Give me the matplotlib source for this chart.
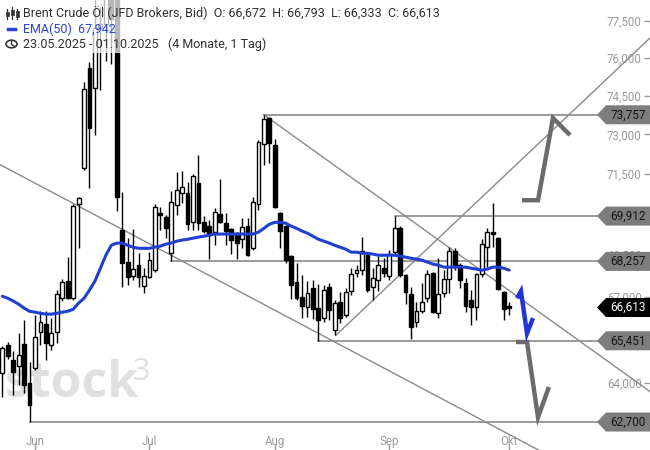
import numpy as np
import pandas as pd
import matplotlib
matplotlib.use('Agg')
import matplotlib.pyplot as plt
from matplotlib.patches import Polygon, Rectangle, Circle
from matplotlib.lines import Line2D
from matplotlib.transforms import blended_transform_factory
from matplotlib.ticker import NullLocator, NullFormatter

plt.rcParams['font.family'] = ['Roboto', 'DejaVu Sans']

# ---------------- data ----------------
dates = pd.bdate_range('2025-05-23', '2025-10-01')

opens = [64.34, 65.30, 64.78, 64.58, 65.33, 64.00, 64.51, 65.75, 66.03, 65.30,
         65.75, 66.94, 67.55, 66.94, 70.35, 71.71, 75.60, 74.80, 77.21, 77.40,
         79.30, 79.00, 69.39, 68.23, 67.72, 68.12, 67.37, 67.69, 67.94, 70.02,
         69.87, 68.55, 70.32, 70.77, 70.77, 69.68, 71.14, 69.68, 69.54, 69.32,
         69.98, 69.65, 69.43, 69.28, 69.06, 69.54, 68.73, 70.35, 72.62, 73.63,
         72.58, 70.02, 69.54, 68.45, 67.51, 66.98, 66.62, 67.30, 66.59, 66.24,
         67.34, 65.82, 66.80, 66.34, 67.19, 67.83, 67.94, 68.48, 67.34, 67.58,
         68.01, 67.72, 68.59, 69.46, 67.76, 67.09, 66.10, 66.48, 66.94, 67.83,
         66.41, 67.12, 67.62, 68.63, 68.12, 67.48, 66.87, 66.62, 67.80, 68.77,
         69.32, 69.10, 67.16, 66.672]
highs = [65.27, 65.40, 65.09, 65.71, 66.17, 64.71, 66.34, 66.48, 66.48, 66.24,
         67.23, 67.62, 68.41, 70.35, 70.61, 75.04, 75.84, 78.98, 78.10, 79.90,
         79.60, 80.80, 70.80, 69.10, 69.43, 68.55, 68.01, 68.59, 70.35, 70.24,
         69.94, 70.84, 71.55, 71.59, 71.18, 71.48, 72.20, 69.91, 69.76, 70.20,
         71.29, 70.02, 69.46, 69.32, 69.83, 69.83, 70.61, 72.77, 73.757, 73.67,
         72.81, 70.06, 69.57, 68.48, 68.19, 67.76, 67.55, 67.58, 67.44, 67.41,
         67.48, 66.87, 67.16, 67.30, 68.01, 68.12, 69.14, 68.52, 68.01, 68.45,
         68.37, 68.66, 69.912, 69.54, 67.80, 67.34, 66.80, 67.48, 67.94, 67.87,
         68.37, 67.94, 68.77, 68.73, 68.19, 67.65, 67.23, 67.83, 69.06, 69.46,
         70.39, 69.14, 67.20, 66.793]
lows = [63.53, 64.82, 63.60, 63.94, 63.67, 62.70, 64.44, 65.30, 64.78, 65.13,
        65.37, 66.84, 66.91, 66.87, 68.73, 71.63, 70.95, 72.97, 74.72, 75.88,
        75.76, 70.09, 67.34, 67.41, 67.58, 67.34, 67.12, 67.65, 67.87, 69.39,
        69.10, 68.257, 69.94, 70.39, 69.39, 69.39, 69.39, 69.28, 68.34, 68.84,
        69.65, 68.84, 68.52, 68.34, 68.73, 68.45, 68.66, 70.13, 71.82, 71.90,
        70.20, 68.73, 68.19, 66.91, 66.87, 66.24, 66.27, 66.20, 65.451, 66.10,
        66.17, 65.64, 66.07, 66.27, 67.05, 67.69, 67.76, 67.16, 66.87, 67.19,
        67.69, 67.58, 68.52, 67.69, 66.73, 65.52, 65.92, 66.41, 66.80, 66.41,
        66.24, 66.98, 67.12, 67.94, 67.30, 66.45, 65.99, 66.17, 67.69, 68.05,
        68.77, 67.23, 66.17, 66.333]
closes = [65.20, 64.92, 64.37, 64.95, 63.94, 63.26, 65.57, 66.10, 65.37, 65.71,
          67.09, 67.51, 66.94, 70.28, 70.58, 74.76, 73.24, 77.21, 77.40, 79.30,
          77.60, 70.61, 68.19, 67.69, 67.97, 67.69, 67.72, 68.30, 70.24, 69.94,
          69.46, 70.43, 70.88, 70.99, 69.61, 71.40, 69.65, 69.36, 69.21, 70.06,
          69.68, 69.36, 69.03, 68.92, 69.50, 68.48, 70.43, 72.69, 73.59, 72.65,
          70.24, 69.36, 68.30, 67.41, 66.94, 66.66, 67.12, 66.55, 66.17, 67.23,
          66.52, 66.77, 66.24, 67.16, 67.80, 67.94, 68.63, 67.23, 67.65, 68.12,
          67.83, 68.52, 69.46, 67.76, 67.16, 65.92, 66.48, 66.80, 67.80, 66.45,
          67.09, 67.62, 68.63, 68.12, 67.58, 66.66, 66.62, 67.80, 68.88, 69.32,
          69.25, 67.27, 66.55, 66.613]
ema50 = [67.01, 66.94, 66.84, 66.73, 66.59, 66.48, 66.45, 66.41, 66.38, 66.38,
         66.41, 66.45, 66.48, 66.55, 66.77, 66.94, 67.23, 67.55, 68.01, 68.48,
         68.84, 68.92, 68.92, 68.84, 68.77, 68.73, 68.73, 68.73, 68.77, 68.81,
         68.88, 68.92, 68.99, 69.03, 69.06, 69.10, 69.14, 69.17, 69.21, 69.25,
         69.25, 69.25, 69.25, 69.25, 69.25, 69.25, 69.25, 69.32, 69.46, 69.61,
         69.68, 69.68, 69.65, 69.54, 69.46, 69.36, 69.28, 69.17, 69.06, 68.99,
         68.92, 68.84, 68.77, 68.70, 68.59, 68.59, 68.55, 68.55, 68.52, 68.48,
         68.48, 68.48, 68.48, 68.45, 68.41, 68.37, 68.34, 68.30, 68.23, 68.16,
         68.12, 68.05, 68.05, 68.05, 68.05, 68.05, 68.01, 67.98, 67.94, 67.98,
         68.05, 68.05, 68.01, 67.942]

# horizontal levels (price, index of first candle)
levels = [73.757, 69.912, 68.257, 65.451, 62.700]
level_start = [48, 72, 31, 58, 5]
level_end = 109.7

# trend lines (index, price) pairs
trend_lines = [
    [(48, 73.757), (118.85, 63.72)],
    [(-0.42, 71.84), (118.85, 59.88)],
    [(61.2, 65.64), (118.85, 76.81)],
]
# hand drawn scenario arrows (index, price)
path_gray_up = [(95.36, 70.50), (98.3, 70.50), (101.05, 73.63), (104.17, 72.97)]
path_blue = [(94.44, 66.94), (95.17, 67.19), (96.28, 65.71), (97.38, 66.24)]
path_gray_down = [(94.26, 65.41), (96.28, 65.41), (98.3, 62.86), (100.3, 63.87)]

# visible y tick labels (others are hidden under the price tags)
y_ticks = [64.0, 67.0, 68.5, 71.5, 73.0, 74.5, 76.0, 77.5]
month_names = {6: 'Jun', 7: 'Jul', 8: 'Aug', 9: 'Sep', 10: 'Okt'}


def de(v):
    return f'{v:.3f}'.replace('.', ',')


# ---------------- figure ----------------
W, H = 650, 450
fig = plt.figure(figsize=(W / 100, H / 100), dpi=100)
ax = fig.add_axes([0, 0, 1, 1])
ax.set_yscale('log')
ax.set_xlim(-0.422, 118.85)
ax.set_ylim(61.78, 78.37)
for s in ax.spines.values():
    s.set_visible(False)
ax.set_facecolor('white')

idx = np.arange(len(dates))
o = np.array(opens); c = np.array(closes)
hi = np.array(highs); lo = np.array(lows)
up = c >= o
bottoms = np.minimum(o, c)
heights = np.maximum(np.abs(c - o), 0.03)

ax.vlines(idx, lo, hi, color='black', lw=1, zorder=3)
ax.bar(idx[up], heights[up], bottom=bottoms[up], width=0.7, facecolor='white',
       edgecolor='black', lw=1, zorder=4)
ax.bar(idx[~up], heights[~up], bottom=bottoms[~up], width=0.7, facecolor='black',
       edgecolor='black', lw=1, zorder=4)

ax.plot(idx, ema50, color='#1f3fd2', lw=2.2, zorder=5, solid_capstyle='round')

gray = '#8a8a8a'
for (a, b) in trend_lines:
    ax.plot([a[0], b[0]], [a[1], b[1]], color=gray, lw=1, zorder=2)
for lv, st in zip(levels, level_start):
    ax.plot([st, level_end], [lv, lv], color=gray, lw=1.2, zorder=2)

for path, col in [(path_gray_up, '#6b6b6b'), (path_gray_down, '#6b6b6b'), (path_blue, '#2433d6')]:
    xs, ys = zip(*path)
    ax.plot(xs, ys, color=col, lw=3.2, zorder=6, solid_joinstyle='miter', solid_capstyle='butt')

# watermark
ax.text(5 / W, 1 - 397 / H, 'stock', transform=ax.transAxes, fontsize=36,
        family=['Open Sans', 'DejaVu Sans'], fontweight='bold', color='#e0e0e0',
        va='baseline', ha='left', zorder=0.5)
ax.text(133 / W, 1 - 380 / H, '3', transform=ax.transAxes, fontsize=22,
        family=['Open Sans', 'DejaVu Sans'], color='#e0e0e0',
        va='baseline', ha='left', zorder=0.5)

# y axis (right, labels inside)
ax.yaxis.tick_right()
ax.set_yticks(y_ticks, labels=[de(v) for v in y_ticks])
ax.yaxis.set_minor_locator(NullLocator())
ax.yaxis.set_minor_formatter(NullFormatter())
ax.tick_params(axis='y', direction='in', length=4, width=1, pad=-6,
               colors='#9a9a9a', labelsize=8.3)
for t in ax.get_yticklabels():
    t.set_horizontalalignment('right')

# x axis
first_idx = []
first_lab = []
for i, d in enumerate(dates):
    if d.month in month_names and (i == 0 or dates[i - 1].month != d.month):
        first_idx.append(i)
        first_lab.append(month_names[d.month])
ax.set_xticks(first_idx, labels=first_lab)
ax.tick_params(axis='x', direction='in', length=4, width=1, pad=-11,
               colors='#9a9a9a', labelsize=8.3)

# price tags
bt = blended_transform_factory(ax.transAxes, ax.transData)
f = np.exp(9.5 / 1891)


def tag(price, fc, tc):
    pts = [(597 / W, price), (606 / W, price * f), (1.0, price * f),
           (1.0, price / f), (606 / W, price / f)]
    ax.add_patch(Polygon(pts, closed=True, transform=bt, facecolor=fc,
                         edgecolor='none', zorder=8, clip_on=False))
    ax.text(628 / W, price, de(price), transform=bt, ha='center',
            va='center', fontsize=8.5, color=tc, zorder=9)


for lv in levels:
    tag(lv, '#7d7d7d', '#151515')
tag(closes[-1], '#000000', '#ffffff')


# header
def P(x, y):
    return (x / W, 1 - y / H)


fig.add_artist(Rectangle(P(0, 53), 345 / W, 53 / H, transform=fig.transFigure,
                         facecolor='white', alpha=0.72, edgecolor='none', zorder=5))

hdr1 = (f'Brent Crude Öl (JFD Brokers, Bid)  O: {de(opens[-1])}  H: {de(highs[-1])}  '
        f'L: {de(lows[-1])}  C: {de(closes[-1])}')
fig.text(*P(23, 13), hdr1, fontsize=9.0, color='#303030', va='center', ha='left', zorder=7)
fig.text(*P(23, 29), f'EMA(50)  {de(ema50[-1])}', fontsize=9.0, color='#2a45d0',
         va='center', ha='left', zorder=7)
fig.text(*P(23, 44), f'{dates[0]:%d.%m.%Y} - {dates[-1]:%d.%m.%Y}   (4 Monate, 1 Tag)',
         fontsize=9.0, color='#303030', va='center', ha='left', zorder=7)

# icons
for cx, (t0, b0, t1, b1) in zip([7, 12, 17], [(9, 19, 12, 16), (7, 19, 10, 15), (9, 19, 11, 17)]):
    fig.add_artist(Line2D([cx / W, cx / W], [1 - t0 / H, 1 - b0 / H], color='#333',
                          lw=0.9, transform=fig.transFigure, zorder=7))
    fig.add_artist(Rectangle(P(cx - 1.5, b1), 3 / W, (b1 - t1) / H, transform=fig.transFigure,
                             facecolor='#333', edgecolor='#333', lw=0.5, zorder=7))
fig.add_artist(Line2D([8 / W, 15 / W], [1 - 29 / H, 1 - 29 / H], color='#2a45d0',
                      lw=2.5, transform=fig.transFigure, zorder=7))
fig.add_artist(Circle(P(11.5, 44), 5.5 / W, transform=fig.transFigure, facecolor='none',
                      edgecolor='#333', lw=1.2, zorder=7))
fig.add_artist(Line2D([11.5 / W, 11.5 / W, 14 / W], [1 - 40.5 / H, 1 - 44.5 / H, 1 - 46 / H],
                      color='#333', lw=1, transform=fig.transFigure, zorder=7))

fig.savefig('out.png', dpi=100, facecolor='white')
